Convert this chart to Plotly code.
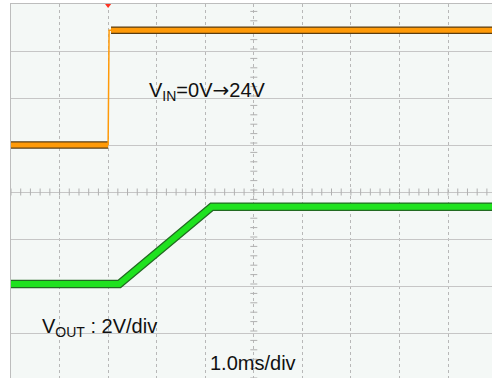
import plotly.graph_objects as go

# ---- data ----
# time in ms (1.0 ms/div), trigger at t = 0
t_vin = [-2.0, 0.0, 0.02, 0.06, 7.95]
v_vin = [0.0, 0.0, 24.4, 24.4, 24.4]          # V, 10 V/div
t_vout = [-2.0, 0.23, 2.135, 7.95]
v_vout = [0.08, 0.08, 3.37, 3.37]             # V, 2 V/div

W, H = 492, 378
ML, MT = 11, 4
DIVX, DIVY = 48.56, 47.0
x0 = -2.0
x1 = x0 + (W - ML) / DIVX
ndiv_y = (H - MT) / DIVY
# VIN: 10 V/div, ground 1 div above centre
vin_top = (4 - 1) * 10
vin_bot = (4 - ndiv_y - 1) * 10
# VOUT: 2 V/div, ground 2 div below centre
vout_top = (4 + 2) * 2
vout_bot = (4 - ndiv_y + 2) * 2

ORANGE = "#ff9a08"
ORANGE_EDGE = "#5a3c10"
GREEN = "#1fe21f"
GREEN_EDGE = "#226a22"

fig = go.Figure()

# centre graticule tick marks
xt = [x0 + i * 0.2 for i in range(int((x1 - x0) / 0.2) + 2)]
fig.add_trace(go.Scatter(x=xt, y=[-10] * len(xt), mode="markers",
                         marker=dict(symbol="line-ns", size=5, line=dict(width=1, color="#b0b0b0")),
                         hoverinfo="skip", showlegend=False))
yt = [vin_bot + i * 2 for i in range(int((vin_top - vin_bot) / 2) + 2)]
fig.add_trace(go.Scatter(x=[3.0] * len(yt), y=yt, mode="markers",
                         marker=dict(symbol="line-ew", size=5, line=dict(width=1, color="#b0b0b0")),
                         hoverinfo="skip", showlegend=False))

# VIN trace (thick flats with dark edge, thin rising edge)
flat_x = [t_vin[0], t_vin[1], None, t_vin[3], t_vin[4]]
flat_y = [v_vin[0], v_vin[1], None, v_vin[3], v_vin[4]]
fig.add_trace(go.Scatter(x=flat_x, y=flat_y, mode="lines",
                         line=dict(color=ORANGE_EDGE, width=7.5), showlegend=False, hoverinfo="skip"))
fig.add_trace(go.Scatter(x=flat_x, y=flat_y, mode="lines",
                         line=dict(color=ORANGE, width=5), showlegend=False, hoverinfo="skip"))
fig.add_trace(go.Scatter(x=t_vin[1:4], y=v_vin[1:4], mode="lines",
                         line=dict(color=ORANGE, width=1.5), showlegend=False, hoverinfo="skip"))

# VOUT trace
fig.add_trace(go.Scatter(x=t_vout, y=v_vout, mode="lines", yaxis="y2",
                         line=dict(color=GREEN_EDGE, width=8.5), showlegend=False, hoverinfo="skip"))
fig.add_trace(go.Scatter(x=t_vout, y=v_vout, mode="lines", yaxis="y2",
                         line=dict(color=GREEN, width=6), showlegend=False, hoverinfo="skip"))

# trigger marker
fig.add_trace(go.Scatter(x=[0.0], y=[vin_top - 0.2], mode="markers", cliponaxis=False,
                         marker=dict(symbol="triangle-down", size=6, color="#ff3322"),
                         showlegend=False, hoverinfo="skip"))


def py(ypx):
    return 1 - (ypx - MT) / (H - MT)


FONT = dict(family="Liberation Sans, Arial, sans-serif", size=20, color="#111111")
ARROW = '<span style="font-family:DejaVu Sans">→</span>'
anns = [
    dict(text="V<sub>IN</sub>=0V" + ARROW + "24V", x=0.80, y=py(91)),
    dict(text="V<sub>OUT</sub> : 2V/div", x=-1.40, y=py(327)),
    dict(text="1.0ms/div", x=2.06, y=py(363)),
]
for a in anns:
    fig.add_annotation(text=a["text"], x=a["x"], y=a["y"], xref="x", yref="paper",
                       xanchor="left", yanchor="middle", showarrow=False, font=FONT)

fig.update_layout(
    width=W, height=H,
    margin=dict(l=ML, r=0, t=MT, b=0),
    paper_bgcolor="white",
    plot_bgcolor="#f4f8f6",
    xaxis=dict(range=[x0, x1], dtick=1, tick0=0, showgrid=True, gridcolor="#b8b8b8",
               griddash="dot", gridwidth=1, zeroline=False, showticklabels=False, ticks="",
               showline=True, linecolor="#bdbdbd", linewidth=1, side="top"),
    yaxis=dict(range=[vin_bot, vin_top], dtick=10, tick0=0, showgrid=True, gridcolor="#c6c6c6",
               gridwidth=1, zeroline=False, showticklabels=False, ticks="",
               showline=True, linecolor="#bdbdbd", linewidth=1),
    yaxis2=dict(range=[vout_bot, vout_top], overlaying="y", showgrid=False, zeroline=False,
                showticklabels=False, ticks="", showline=False),
)

fig.write_html("out.html", config={"displayModeBar": False},
               post_script="document.body.style.margin='0px';")
